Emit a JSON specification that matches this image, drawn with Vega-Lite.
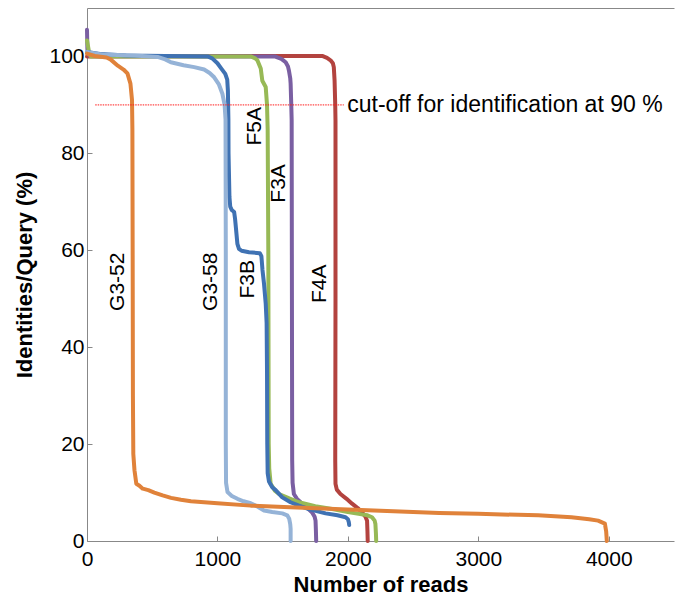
{
  "$schema": "https://vega.github.io/schema/vega-lite/v6.json",
  "width": 587,
  "height": 533,
  "autosize": {"type": "none"},
  "padding": {"left": 87, "top": 8, "right": 1, "bottom": 67},
  "config": {
    "view": {"stroke": null},
    "font": "Liberation Sans",
    "axis": {
      "grid": false,
      "domainColor": "#888888",
      "domainWidth": 1,
      "tickColor": "#888888",
      "tickWidth": 1,
      "labelColor": "#000000",
      "titleColor": "#000000",
      "labelFont": "Liberation Sans",
      "titleFont": "Liberation Sans",
      "labelFontSize": 21,
      "titleFontSize": 22,
      "titleFontWeight": "bold"
    }
  },
  "datasets": {
    "curves": [
      {"s": "F4A", "i": 1, "x": 0, "y": 100},
      {"s": "F4A", "i": 2, "x": 1780, "y": 100.1},
      {"s": "F4A", "i": 3, "x": 1803, "y": 100.1},
      {"s": "F4A", "i": 4, "x": 1840, "y": 99.7},
      {"s": "F4A", "i": 5, "x": 1867, "y": 99.2},
      {"s": "F4A", "i": 6, "x": 1885, "y": 98.6},
      {"s": "F4A", "i": 7, "x": 1892, "y": 97.8},
      {"s": "F4A", "i": 8, "x": 1898, "y": 95},
      {"s": "F4A", "i": 9, "x": 1903, "y": 90},
      {"s": "F4A", "i": 10, "x": 1905, "y": 86.8},
      {"s": "F4A", "i": 11, "x": 1905, "y": 50},
      {"s": "F4A", "i": 12, "x": 1903, "y": 16.6},
      {"s": "F4A", "i": 13, "x": 1905, "y": 11.8},
      {"s": "F4A", "i": 14, "x": 1915, "y": 10.6},
      {"s": "F4A", "i": 15, "x": 1943, "y": 9.7},
      {"s": "F4A", "i": 16, "x": 1990, "y": 8.7},
      {"s": "F4A", "i": 17, "x": 2032, "y": 7.7},
      {"s": "F4A", "i": 18, "x": 2075, "y": 6.8},
      {"s": "F4A", "i": 19, "x": 2109, "y": 5.9},
      {"s": "F4A", "i": 20, "x": 2135, "y": 5.0},
      {"s": "F4A", "i": 21, "x": 2147, "y": 4.2},
      {"s": "F4A", "i": 22, "x": 2150, "y": 2},
      {"s": "F4A", "i": 23, "x": 2152, "y": 0},

      {"s": "F3A", "i": 1, "x": 0, "y": 105.5},
      {"s": "F3A", "i": 2, "x": 3, "y": 101.5},
      {"s": "F3A", "i": 3, "x": 20, "y": 100.1},
      {"s": "F3A", "i": 4, "x": 1440, "y": 100},
      {"s": "F3A", "i": 5, "x": 1459, "y": 99.8},
      {"s": "F3A", "i": 6, "x": 1490, "y": 99.5},
      {"s": "F3A", "i": 7, "x": 1523, "y": 98.8},
      {"s": "F3A", "i": 8, "x": 1540, "y": 98},
      {"s": "F3A", "i": 9, "x": 1548, "y": 97.1},
      {"s": "F3A", "i": 10, "x": 1558, "y": 95.5},
      {"s": "F3A", "i": 11, "x": 1561, "y": 94.4},
      {"s": "F3A", "i": 12, "x": 1566, "y": 90},
      {"s": "F3A", "i": 13, "x": 1569, "y": 86.8},
      {"s": "F3A", "i": 14, "x": 1571, "y": 50},
      {"s": "F3A", "i": 15, "x": 1573, "y": 16.6},
      {"s": "F3A", "i": 16, "x": 1576, "y": 12},
      {"s": "F3A", "i": 17, "x": 1586, "y": 9.7},
      {"s": "F3A", "i": 18, "x": 1610, "y": 8.7},
      {"s": "F3A", "i": 19, "x": 1650, "y": 7.7},
      {"s": "F3A", "i": 20, "x": 1690, "y": 6.8},
      {"s": "F3A", "i": 21, "x": 1726, "y": 5.9},
      {"s": "F3A", "i": 22, "x": 1745, "y": 5.0},
      {"s": "F3A", "i": 23, "x": 1752, "y": 4.2},
      {"s": "F3A", "i": 24, "x": 1755, "y": 2},
      {"s": "F3A", "i": 25, "x": 1757, "y": 0},

      {"s": "F5A", "i": 1, "x": 0, "y": 103.3},
      {"s": "F5A", "i": 2, "x": 15, "y": 101},
      {"s": "F5A", "i": 3, "x": 30, "y": 100},
      {"s": "F5A", "i": 4, "x": 1255, "y": 100},
      {"s": "F5A", "i": 5, "x": 1290, "y": 99.6},
      {"s": "F5A", "i": 6, "x": 1306, "y": 99.2},
      {"s": "F5A", "i": 7, "x": 1332, "y": 97.5},
      {"s": "F5A", "i": 8, "x": 1344, "y": 95},
      {"s": "F5A", "i": 9, "x": 1370, "y": 93.7},
      {"s": "F5A", "i": 10, "x": 1380, "y": 90},
      {"s": "F5A", "i": 11, "x": 1385, "y": 85},
      {"s": "F5A", "i": 12, "x": 1390, "y": 60},
      {"s": "F5A", "i": 13, "x": 1393, "y": 20},
      {"s": "F5A", "i": 14, "x": 1397, "y": 15},
      {"s": "F5A", "i": 15, "x": 1408, "y": 11.8},
      {"s": "F5A", "i": 16, "x": 1440, "y": 10.4},
      {"s": "F5A", "i": 17, "x": 1472, "y": 9.7},
      {"s": "F5A", "i": 18, "x": 1550, "y": 8.8},
      {"s": "F5A", "i": 19, "x": 1625, "y": 8.0},
      {"s": "F5A", "i": 20, "x": 1750, "y": 7.2},
      {"s": "F5A", "i": 21, "x": 1879, "y": 6.6},
      {"s": "F5A", "i": 22, "x": 2000, "y": 6.0},
      {"s": "F5A", "i": 23, "x": 2083, "y": 5.6},
      {"s": "F5A", "i": 24, "x": 2150, "y": 5.3},
      {"s": "F5A", "i": 25, "x": 2185, "y": 4.9},
      {"s": "F5A", "i": 26, "x": 2205, "y": 4.2},
      {"s": "F5A", "i": 27, "x": 2211, "y": 3.5},
      {"s": "F5A", "i": 28, "x": 2215, "y": 1.5},
      {"s": "F5A", "i": 29, "x": 2217, "y": 0},

      {"s": "F3B", "i": 1, "x": 0, "y": 100.9},
      {"s": "F3B", "i": 2, "x": 100, "y": 100.5},
      {"s": "F3B", "i": 3, "x": 300, "y": 100.2},
      {"s": "F3B", "i": 4, "x": 600, "y": 100.1},
      {"s": "F3B", "i": 5, "x": 924, "y": 100},
      {"s": "F3B", "i": 6, "x": 960, "y": 99.6},
      {"s": "F3B", "i": 7, "x": 1000, "y": 98.6},
      {"s": "F3B", "i": 8, "x": 1030, "y": 97.5},
      {"s": "F3B", "i": 9, "x": 1060, "y": 96.4},
      {"s": "F3B", "i": 10, "x": 1075, "y": 95.2},
      {"s": "F3B", "i": 11, "x": 1080, "y": 93},
      {"s": "F3B", "i": 12, "x": 1084, "y": 87},
      {"s": "F3B", "i": 13, "x": 1085, "y": 80},
      {"s": "F3B", "i": 14, "x": 1092, "y": 71},
      {"s": "F3B", "i": 15, "x": 1098, "y": 69},
      {"s": "F3B", "i": 16, "x": 1110, "y": 68.3},
      {"s": "F3B", "i": 17, "x": 1128, "y": 67.9},
      {"s": "F3B", "i": 18, "x": 1135, "y": 66.5},
      {"s": "F3B", "i": 19, "x": 1141, "y": 64.8},
      {"s": "F3B", "i": 20, "x": 1153, "y": 61.3},
      {"s": "F3B", "i": 21, "x": 1165, "y": 60.3},
      {"s": "F3B", "i": 22, "x": 1185, "y": 59.9},
      {"s": "F3B", "i": 23, "x": 1242, "y": 59.6},
      {"s": "F3B", "i": 24, "x": 1325, "y": 59.4},
      {"s": "F3B", "i": 25, "x": 1337, "y": 58.8},
      {"s": "F3B", "i": 26, "x": 1345, "y": 56},
      {"s": "F3B", "i": 27, "x": 1357, "y": 53.1},
      {"s": "F3B", "i": 28, "x": 1370, "y": 49},
      {"s": "F3B", "i": 29, "x": 1377, "y": 45},
      {"s": "F3B", "i": 30, "x": 1380, "y": 35},
      {"s": "F3B", "i": 31, "x": 1382, "y": 20},
      {"s": "F3B", "i": 32, "x": 1385, "y": 14},
      {"s": "F3B", "i": 33, "x": 1395, "y": 12.3},
      {"s": "F3B", "i": 34, "x": 1420, "y": 11.1},
      {"s": "F3B", "i": 35, "x": 1446, "y": 10.5},
      {"s": "F3B", "i": 36, "x": 1497, "y": 9.0},
      {"s": "F3B", "i": 37, "x": 1560, "y": 8.0},
      {"s": "F3B", "i": 38, "x": 1625, "y": 7.3},
      {"s": "F3B", "i": 39, "x": 1700, "y": 6.6},
      {"s": "F3B", "i": 40, "x": 1829, "y": 5.7},
      {"s": "F3B", "i": 41, "x": 1920, "y": 5.3},
      {"s": "F3B", "i": 42, "x": 1982, "y": 4.9},
      {"s": "F3B", "i": 43, "x": 2000, "y": 4.5},
      {"s": "F3B", "i": 44, "x": 2007, "y": 3.9},
      {"s": "F3B", "i": 45, "x": 2010, "y": 3.3},

      {"s": "G3-58", "i": 1, "x": 0, "y": 100.9},
      {"s": "G3-58", "i": 2, "x": 108, "y": 100.4},
      {"s": "G3-58", "i": 3, "x": 363, "y": 100.2},
      {"s": "G3-58", "i": 4, "x": 541, "y": 99.9},
      {"s": "G3-58", "i": 5, "x": 600, "y": 99.4},
      {"s": "G3-58", "i": 6, "x": 643, "y": 98.8},
      {"s": "G3-58", "i": 7, "x": 740, "y": 98.2},
      {"s": "G3-58", "i": 8, "x": 822, "y": 97.8},
      {"s": "G3-58", "i": 9, "x": 898, "y": 97.3},
      {"s": "G3-58", "i": 10, "x": 940, "y": 96.6},
      {"s": "G3-58", "i": 11, "x": 975, "y": 95.7},
      {"s": "G3-58", "i": 12, "x": 1010, "y": 94.3},
      {"s": "G3-58", "i": 13, "x": 1038, "y": 92.3},
      {"s": "G3-58", "i": 14, "x": 1055, "y": 90},
      {"s": "G3-58", "i": 15, "x": 1062, "y": 87},
      {"s": "G3-58", "i": 16, "x": 1064, "y": 60},
      {"s": "G3-58", "i": 17, "x": 1064, "y": 20},
      {"s": "G3-58", "i": 18, "x": 1066, "y": 12},
      {"s": "G3-58", "i": 19, "x": 1077, "y": 10.1},
      {"s": "G3-58", "i": 20, "x": 1110, "y": 9.3},
      {"s": "G3-58", "i": 21, "x": 1153, "y": 8.7},
      {"s": "G3-58", "i": 22, "x": 1200, "y": 8.2},
      {"s": "G3-58", "i": 23, "x": 1255, "y": 7.8},
      {"s": "G3-58", "i": 24, "x": 1300, "y": 7.2},
      {"s": "G3-58", "i": 25, "x": 1357, "y": 6.3},
      {"s": "G3-58", "i": 26, "x": 1420, "y": 6.0},
      {"s": "G3-58", "i": 27, "x": 1497, "y": 5.7},
      {"s": "G3-58", "i": 28, "x": 1535, "y": 5.3},
      {"s": "G3-58", "i": 29, "x": 1550, "y": 4.6},
      {"s": "G3-58", "i": 30, "x": 1558, "y": 3.5},
      {"s": "G3-58", "i": 31, "x": 1561, "y": 2.5},
      {"s": "G3-58", "i": 32, "x": 1561, "y": 0},

      {"s": "G3-52", "i": 1, "x": 0, "y": 100.6},
      {"s": "G3-52", "i": 2, "x": 60, "y": 100.1},
      {"s": "G3-52", "i": 3, "x": 150, "y": 99.8},
      {"s": "G3-52", "i": 4, "x": 180, "y": 99.4},
      {"s": "G3-52", "i": 5, "x": 236, "y": 98.1},
      {"s": "G3-52", "i": 6, "x": 280, "y": 97.3},
      {"s": "G3-52", "i": 7, "x": 310, "y": 96.5},
      {"s": "G3-52", "i": 8, "x": 333, "y": 94.4},
      {"s": "G3-52", "i": 9, "x": 345, "y": 91},
      {"s": "G3-52", "i": 10, "x": 348, "y": 85},
      {"s": "G3-52", "i": 11, "x": 350, "y": 60},
      {"s": "G3-52", "i": 12, "x": 352, "y": 30},
      {"s": "G3-52", "i": 13, "x": 355, "y": 18},
      {"s": "G3-52", "i": 14, "x": 364, "y": 14.6},
      {"s": "G3-52", "i": 15, "x": 378, "y": 11.8},
      {"s": "G3-52", "i": 16, "x": 402, "y": 11.4},
      {"s": "G3-52", "i": 17, "x": 427, "y": 10.8},
      {"s": "G3-52", "i": 18, "x": 470, "y": 10.5},
      {"s": "G3-52", "i": 19, "x": 516, "y": 10.0},
      {"s": "G3-52", "i": 20, "x": 580, "y": 9.4},
      {"s": "G3-52", "i": 21, "x": 644, "y": 8.9},
      {"s": "G3-52", "i": 22, "x": 720, "y": 8.5},
      {"s": "G3-52", "i": 23, "x": 797, "y": 8.2},
      {"s": "G3-52", "i": 24, "x": 1000, "y": 7.8},
      {"s": "G3-52", "i": 25, "x": 1255, "y": 7.3},
      {"s": "G3-52", "i": 26, "x": 1510, "y": 7.0},
      {"s": "G3-52", "i": 27, "x": 2000, "y": 6.5},
      {"s": "G3-52", "i": 28, "x": 2500, "y": 6.0},
      {"s": "G3-52", "i": 29, "x": 2700, "y": 5.8},
      {"s": "G3-52", "i": 30, "x": 3000, "y": 5.6},
      {"s": "G3-52", "i": 31, "x": 3459, "y": 5.3},
      {"s": "G3-52", "i": 32, "x": 3714, "y": 4.9},
      {"s": "G3-52", "i": 33, "x": 3850, "y": 4.5},
      {"s": "G3-52", "i": 34, "x": 3918, "y": 4.2},
      {"s": "G3-52", "i": 35, "x": 3970, "y": 3.6},
      {"s": "G3-52", "i": 36, "x": 3980, "y": 2},
      {"s": "G3-52", "i": 37, "x": 3985, "y": 0}
    ],
    "labels": [
      {"s": "G3-52", "x": 241, "y": 53.5},
      {"s": "G3-58", "x": 952, "y": 53.5},
      {"s": "F3B", "x": 1238, "y": 54},
      {"s": "F5A", "x": 1290, "y": 85.6},
      {"s": "F3A", "x": 1471, "y": 73.8},
      {"s": "F4A", "x": 1789, "y": 53.1}
    ],
    "cutoff": [
      {"x1": 63, "x2": 1969, "y": 90, "tx": 1995, "label": "cut-off for identification at 90 %"}
    ]
  },
  "layer": [
    {
      "data": {"name": "curves"},
      "mark": {"type": "line", "strokeWidth": 4, "strokeJoin": "round", "strokeCap": "round"},
      "encoding": {
        "x": {
          "field": "x", "type": "quantitative",
          "scale": {"domain": [0, 4500], "nice": false, "zero": false},
          "axis": {
            "orient": "bottom",
            "values": [0, 1000, 2000, 3000, 4000],
            "format": "d",
            "title": "Number of reads",
            "tickSize": -5,
            "labelPadding": 12,
            "titlePadding": 5,
            "labelFlush": false
          }
        },
        "y": {
          "field": "y", "type": "quantitative",
          "scale": {"domain": [0, 110], "nice": false, "zero": false},
          "axis": {
            "values": [0, 20, 40, 60, 80, 100],
            "title": "Identities/Query (%)",
            "tickSize": -5,
            "labelPadding": 8,
            "titlePadding": 12
          }
        },
        "color": {
          "field": "s", "type": "nominal",
          "scale": {
            "domain": ["F4A", "F3A", "F5A", "F3B", "G3-58", "G3-52"],
            "range": ["#B3433F", "#7A5FA2", "#97B956", "#3F72B3", "#95B3D7", "#E0823A"]
          },
          "legend": null
        },
        "order": {"field": "i", "type": "quantitative"}
      }
    },
    {
      "data": {"name": "cutoff"},
      "mark": {"type": "rule", "color": "#ff1a1a", "strokeWidth": 1, "strokeDash": [1.5, 1]},
      "encoding": {
        "x": {
          "field": "x1", "type": "quantitative",
          "axis": {"orient": "top", "labels": false, "ticks": false, "title": null, "domainColor": "#888888"}
        },
        "x2": {"field": "x2"},
        "y": {"field": "y", "type": "quantitative"}
      }
    },
    {
      "data": {"name": "cutoff"},
      "mark": {"type": "text", "align": "left", "baseline": "middle", "fontSize": 23, "font": "Liberation Sans", "color": "#000000"},
      "encoding": {
        "x": {"field": "tx", "type": "quantitative", "axis": null},
        "y": {"field": "y", "type": "quantitative"},
        "text": {"field": "label"}
      }
    },
    {
      "data": {"name": "labels"},
      "mark": {"type": "text", "align": "center", "baseline": "middle", "angle": 270, "fontSize": 21, "font": "Liberation Sans", "color": "#000000"},
      "encoding": {
        "x": {"field": "x", "type": "quantitative", "axis": null},
        "y": {"field": "y", "type": "quantitative"},
        "text": {"field": "s"}
      }
    }
  ],
  "resolve": {"axis": {"x": "independent"}}
}
